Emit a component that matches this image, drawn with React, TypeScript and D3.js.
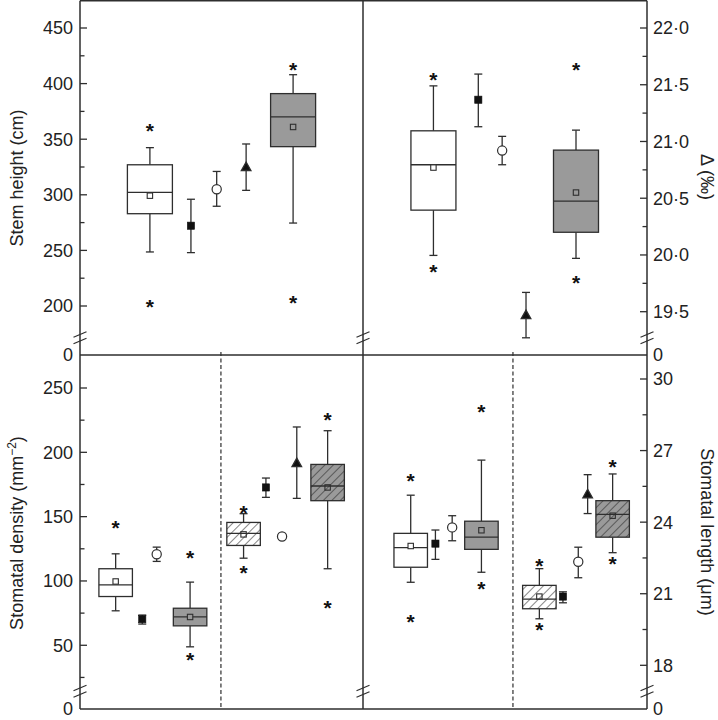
import React from 'react';
import * as d3 from 'd3';

// ---------- data ----------
type Box = { x: number; lo: number; q1: number; med: number; q3: number; hi: number; mean: number; out: number[]; fill: string; hatch: boolean };
type Pt = { x: number; v: number; lo: number; hi: number; shape: 'square' | 'circle' | 'triangle' };

const GREY = '#9a9a9a';

const stemBoxes: Box[] = [
  { x: 2.47, lo: 248.6, q1: 283, med: 302.2, q3: 327, hi: 342.4, mean: 299.2, out: [362, 203.6], fill: '#fff', hatch: false },
  { x: 7.53, lo: 274.6, q1: 343.3, med: 370, q3: 391, hi: 408, mean: 361, out: [416.7, 207.5], fill: GREY, hatch: false },
];
const stemPoints: Pt[] = [
  { x: 3.92, v: 272.2, lo: 248, hi: 296, shape: 'square' },
  { x: 4.83, v: 305, lo: 289.7, hi: 321, shape: 'circle' },
  { x: 5.87, v: 325, lo: 304, hi: 345.7, shape: 'triangle' },
];

const deltaBoxes: Box[] = [
  { x: 2.48, lo: 19.996, q1: 20.395, med: 20.795, q3: 21.094, hi: 21.49, mean: 20.77, out: [21.59, 19.895], fill: '#fff', hatch: false },
  { x: 7.5, lo: 19.97, q1: 20.2, med: 20.474, q3: 20.924, hi: 21.1, mean: 20.55, out: [21.67, 19.8], fill: GREY, hatch: false },
];
const deltaPoints: Pt[] = [
  { x: 4.06, v: 21.368, lo: 21.13, hi: 21.594, shape: 'square' },
  { x: 4.9, v: 20.92, lo: 20.795, hi: 21.045, shape: 'circle' },
  { x: 5.74, v: 19.47, lo: 19.27, hi: 19.67, shape: 'triangle' },
];

const densityBoxes: Box[] = [
  { x: 1.26, lo: 76.8, q1: 87.9, med: 97.0, q3: 109.5, hi: 121.1, mean: 99.6, out: [145], fill: '#fff', hatch: false },
  { x: 3.89, lo: 48.8, q1: 65.1, med: 72.1, q3: 78.8, hi: 99.1, mean: 72, out: [121.4, 42.8], fill: GREY, hatch: false },
  { x: 5.78, lo: 117.7, q1: 127.6, med: 137, q3: 145.5, hi: 152.3, mean: 136.2, out: [157, 110.3], fill: '#fff', hatch: true },
  { x: 8.75, lo: 109.5, q1: 162.4, med: 173.8, q3: 190.6, hi: 216.8, mean: 172.7, out: [229.3, 82.7], fill: GREY, hatch: true },
];
const densityPoints: Pt[] = [
  { x: 2.2, v: 70.3, lo: 66.5, hi: 73.5, shape: 'square' },
  { x: 2.71, v: 120.8, lo: 115.2, hi: 126.3, shape: 'circle' },
  { x: 6.57, v: 172.7, lo: 165, hi: 180, shape: 'square' },
  { x: 7.14, v: 134.6, lo: 132.5, hi: 136.5, shape: 'circle' },
  { x: 7.66, v: 191.6, lo: 164.2, hi: 219.7, shape: 'triangle' },
];

const lengthBoxes: Box[] = [
  { x: 1.68, lo: 21.48, q1: 22.11, med: 22.93, q3: 23.53, hi: 25.13, mean: 23.0, out: [25.95, 20.01], fill: '#fff', hatch: false },
  { x: 4.17, lo: 21.9, q1: 22.86, med: 23.37, q3: 24.04, hi: 26.6, mean: 23.66, out: [28.84, 21.4], fill: GREY, hatch: false },
  { x: 6.21, lo: 19.95, q1: 20.37, med: 20.77, q3: 21.35, hi: 22.05, mean: 20.88, out: [22.38, 19.68], fill: '#fff', hatch: true },
  { x: 8.79, lo: 22.72, q1: 23.37, med: 24.33, q3: 24.9, hi: 26.02, mean: 24.27, out: [26.52, 22.44], fill: GREY, hatch: true },
];
const lengthPoints: Pt[] = [
  { x: 2.55, v: 23.1, lo: 22.44, hi: 23.67, shape: 'square' },
  { x: 3.14, v: 23.78, lo: 23.22, hi: 24.27, shape: 'circle' },
  { x: 7.04, v: 20.88, lo: 20.62, hi: 21.08, shape: 'square' },
  { x: 7.58, v: 22.34, lo: 21.67, hi: 22.95, shape: 'circle' },
  { x: 7.91, v: 25.17, lo: 24.36, hi: 25.99, shape: 'triangle' },
];

const stemTicks = [200, 250, 300, 350, 400, 450];
const stemMinor = [225, 275, 325, 375, 425];
const deltaTicks = [19.5, 20.0, 20.5, 21.0, 21.5, 22.0];
const deltaMinor = [19.75, 20.25, 20.75, 21.25, 21.75];
const densityTicks = [50, 100, 150, 200, 250];
const densityMinor = [25, 75, 125, 175, 225];
const lengthTicks = [18, 21, 24, 27, 30];
const lengthMinor = [19.5, 22.5, 25.5, 28.5];

const dividerLeft = 4.98;
const dividerRight = 5.28;

// ---------- layout ----------
const W = 718, H = 720;
const L = 80, R = 647, M = 363, T = 0.75, MY = 355, B = 709;
const FONT = '"Liberation Sans", Arial, Helvetica, sans-serif';
const INK = '#2e2e2e';

const xLeft = d3.scaleLinear().domain([0, 10]).range([L, M]);
const xRight = d3.scaleLinear().domain([0, 10]).range([M, R]);
const yStem = d3.scaleLinear().domain([200, 450]).range([306, 28]);
const yDelta = d3.scaleLinear().domain([19.5, 22]).range([311.7, 28]);
const yDensity = d3.scaleLinear().domain([0, 250]).range([709.6, 388]);
const yLength = d3.scaleLinear().domain([18, 30]).range([665.3, 379]);

const fmtDelta = (v: number) => d3.format('.1f')(v).replace('.', '·');

function BoxMark({ b, xs, ys, w }: { b: Box; xs: any; ys: any; w: number }) {
  const cx = xs(b.x);
  const cap = 8;
  return (
    <g stroke={INK} strokeWidth={1.3}>
      <line x1={cx} x2={cx} y1={ys(b.hi)} y2={ys(b.q3)} />
      <line x1={cx} x2={cx} y1={ys(b.q1)} y2={ys(b.lo)} />
      <line x1={cx - cap / 2} x2={cx + cap / 2} y1={ys(b.hi)} y2={ys(b.hi)} />
      <line x1={cx - cap / 2} x2={cx + cap / 2} y1={ys(b.lo)} y2={ys(b.lo)} />
      <rect x={cx - w / 2} y={ys(b.q3)} width={w} height={ys(b.q1) - ys(b.q3)} fill={b.fill} />
      {b.hatch && <rect x={cx - w / 2} y={ys(b.q3)} width={w} height={ys(b.q1) - ys(b.q3)} fill="url(#hatch)" stroke="none" />}
      <line x1={cx - w / 2} x2={cx + w / 2} y1={ys(b.med)} y2={ys(b.med)} />
      <rect x={cx - 2.7} y={ys(b.mean) - 2.7} width={5.4} height={5.4} fill={b.hatch ? 'none' : b.fill} strokeWidth={1.1} />
      {b.out.map((o, i) => (
        <text key={i} x={cx} y={ys(o) + 12} textAnchor="middle" fontSize={21} fontWeight="bold" fontFamily={FONT} fill="#111" stroke="none">*</text>
      ))}
    </g>
  );
}

function PointMark({ p, xs, ys }: { p: Pt; xs: any; ys: any }) {
  const cx = xs(p.x);
  const cy = ys(p.v);
  const cap = 8;
  let marker;
  if (p.shape === 'square') marker = <rect x={cx - 3.6} y={cy - 3.6} width={7.2} height={7.2} fill="#111" stroke="#111" strokeWidth={0.6} />;
  else if (p.shape === 'circle') marker = <circle cx={cx} cy={cy} r={4.6} fill="#fff" stroke={INK} strokeWidth={1.2} />;
  else marker = <path d={`M${cx},${cy - 5} L${cx + 4.8},${cy + 3.5} L${cx - 4.8},${cy + 3.5} Z`} fill="#111" />;
  return (
    <g stroke={INK} strokeWidth={1.3}>
      <line x1={cx} x2={cx} y1={ys(p.hi)} y2={ys(p.lo)} />
      <line x1={cx - cap / 2} x2={cx + cap / 2} y1={ys(p.hi)} y2={ys(p.hi)} />
      <line x1={cx - cap / 2} x2={cx + cap / 2} y1={ys(p.lo)} y2={ys(p.lo)} />
      {marker}
    </g>
  );
}

function Panel({ boxes, points, xs, ys, w }: { boxes: Box[]; points: Pt[]; xs: any; ys: any; w: number }) {
  return (
    <g>
      {boxes.map((b, i) => <BoxMark key={'b' + i} b={b} xs={xs} ys={ys} w={w} />)}
      {points.map((p, i) => <PointMark key={'p' + i} p={p} xs={xs} ys={ys} />)}
    </g>
  );
}

function YAxis({ x, ys, ticks, minor, side, fmt }: { x: number; ys: any; ticks: number[]; minor: number[]; side: 'left' | 'right'; fmt: (v: number) => string }) {
  const dir = side === 'left' ? 1 : -1;
  return (
    <g>
      {ticks.map((t) => (
        <g key={'t' + t}>
          <line x1={x} x2={x + dir * 7} y1={ys(t)} y2={ys(t)} stroke={INK} strokeWidth={1.3} />
          <text x={side === 'left' ? x - 7 : x + 6} y={ys(t)} dy="0.36em" textAnchor={side === 'left' ? 'end' : 'start'} fontSize={18} fontFamily={FONT} fill="#222">{fmt(t)}</text>
        </g>
      ))}
      {minor.map((t) => (
        <line key={'m' + t} x1={x} x2={x + dir * 4.5} y1={ys(t)} y2={ys(t)} stroke={INK} strokeWidth={1.3} />
      ))}
    </g>
  );
}

function BreakMark({ x, y }: { x: number; y: number }) {
  return (
    <g stroke={INK} strokeWidth={1.2}>
      <line x1={x - 6.5} x2={x + 6.5} y1={y + 2.8} y2={y - 2.8} />
      <line x1={x - 6.5} x2={x + 6.5} y1={y + 9.3} y2={y + 3.7} />
    </g>
  );
}

export default function App() {
  return (
    <svg width={W} height={H} viewBox={`0 0 ${W} ${H}`} style={{ position: 'absolute', left: 0, top: 0, background: '#fff' }}>
      <defs>
        <pattern id="hatch" patternUnits="userSpaceOnUse" width={6} height={6} patternTransform="rotate(45)">
          <line x1={0} y1={0} x2={0} y2={6} stroke="#222" strokeWidth={1.1} />
        </pattern>
      </defs>
      <rect x={0} y={0} width={W} height={H} fill="#fff" />

      {/* dashed dividers */}
      <line x1={xLeft(dividerLeft)} x2={xLeft(dividerLeft)} y1={MY - 3} y2={B} stroke={INK} strokeWidth={1.2} strokeDasharray="4,2.5" />
      <line x1={xRight(dividerRight)} x2={xRight(dividerRight)} y1={MY - 3} y2={B} stroke={INK} strokeWidth={1.2} strokeDasharray="4,2.5" />

      {/* frame */}
      <g stroke={INK} strokeWidth={1.5}>
        <line x1={L} x2={R} y1={T} y2={T} />
        <line x1={L} x2={R} y1={MY} y2={MY} />
        <line x1={L} x2={R} y1={B} y2={B} />
        <line x1={L} x2={L} y1={T} y2={B} />
        <line x1={M} x2={M} y1={T} y2={B} />
        <line x1={R} x2={R} y1={T} y2={B} />
      </g>

      {/* breaks */}
      {[L, M, R].map((x) => <BreakMark key={'bt' + x} x={x} y={334.5} />)}
      {[L, M, R].map((x) => <BreakMark key={'bb' + x} x={x} y={688} />)}

      {/* axes */}
      <YAxis x={L} ys={yStem} ticks={stemTicks} minor={stemMinor} side="left" fmt={(v) => String(v)} />
      <YAxis x={R} ys={yDelta} ticks={deltaTicks} minor={deltaMinor} side="right" fmt={fmtDelta} />
      <YAxis x={L} ys={yDensity} ticks={densityTicks} minor={densityMinor} side="left" fmt={(v) => String(v)} />
      <YAxis x={R} ys={yLength} ticks={lengthTicks} minor={lengthMinor} side="right" fmt={(v) => String(v)} />

      {/* zero labels at panel bottoms */}
      <text x={L - 7} y={MY} dy="0.36em" textAnchor="end" fontSize={18} fontFamily={FONT} fill="#222">0</text>
      <text x={L - 7} y={B} dy="0.36em" textAnchor="end" fontSize={18} fontFamily={FONT} fill="#222">0</text>
      <text x={R + 6} y={MY} dy="0.36em" textAnchor="start" fontSize={18} fontFamily={FONT} fill="#222">0</text>
      <text x={R + 6} y={B} dy="0.36em" textAnchor="start" fontSize={18} fontFamily={FONT} fill="#222">0</text>

      {/* axis titles */}
      <text transform="translate(17,178) rotate(-90)" dy="0.36em" textAnchor="middle" fontSize={18} fontFamily={FONT} fill="#222">Stem height (cm)</text>
      <text transform="translate(17,533) rotate(-90)" dy="0.36em" textAnchor="middle" fontSize={18} fontFamily={FONT} fill="#222">
        Stomatal density (mm<tspan dy="-7" fontSize={12}>−2</tspan><tspan dy="7">)</tspan>
      </text>
      <text transform="translate(707,177) rotate(90)" dy="0.36em" textAnchor="middle" fontSize={18} fontFamily={FONT} fill="#222">Δ (‰)</text>
      <text transform="translate(707,532) rotate(90)" dy="0.36em" textAnchor="middle" fontSize={18} fontFamily={FONT} fill="#222">Stomatal length (μm)</text>

      {/* panels */}
      <Panel boxes={stemBoxes} points={stemPoints} xs={xLeft} ys={yStem} w={45} />
      <Panel boxes={deltaBoxes} points={deltaPoints} xs={xRight} ys={yDelta} w={45} />
      <Panel boxes={densityBoxes} points={densityPoints} xs={xLeft} ys={yDensity} w={33.5} />
      <Panel boxes={lengthBoxes} points={lengthPoints} xs={xRight} ys={yLength} w={33.5} />
    </svg>
  );
}
